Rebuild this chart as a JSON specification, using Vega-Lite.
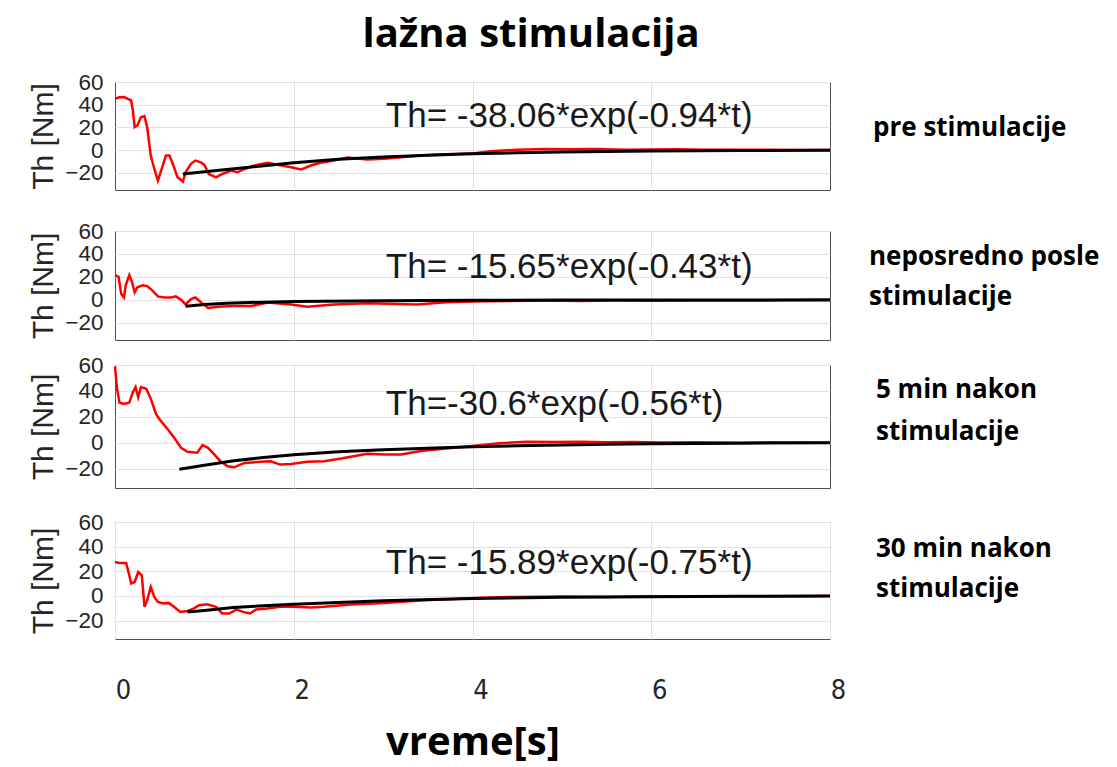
{
  "$schema": "https://vega.github.io/schema/vega-lite/v6.json",
  "background": "white",
  "padding": {"left": 28, "top": 14, "right": 10, "bottom": 2},
  "spacing": 12,
  "title": {"text": "lažna stimulacija", "font": "Open Sans", "fontSize": 40, "fontWeight": "bold", "color": "#000000", "anchor": "middle", "offset": 16, "dx": -33},
  "config": {
    "view": {"stroke": "#505050", "strokeWidth": 1, "fill": "white"},
    "axis": {"gridColor": "#e2e2e2", "gridWidth": 1, "ticks": false, "domain": false, "labelFont": "Liberation Sans", "labelColor": "#262626", "titleColor": "#262626"}
  },
  "datasets": {
    "red": [
      {"p":1,"t":0,"th":45.3},{"p":1,"t":0.05,"th":46.5},{"p":1,"t":0.1,"th":46.8},{"p":1,"t":0.15,"th":45},{"p":1,"t":0.18,"th":43.8},{"p":1,"t":0.2,"th":35},{"p":1,"t":0.22,"th":20.3},{"p":1,"t":0.25,"th":21.8},{"p":1,"t":0.29,"th":29},{"p":1,"t":0.33,"th":30},{"p":1,"t":0.36,"th":20.3},{"p":1,"t":0.4,"th":-4.7},{"p":1,"t":0.44,"th":-16.5},{"p":1,"t":0.48,"th":-26.7},{"p":1,"t":0.51,"th":-19.4},{"p":1,"t":0.57,"th":-4.7},{"p":1,"t":0.61,"th":-4.7},{"p":1,"t":0.64,"th":-10.6},{"p":1,"t":0.7,"th":-23.8},{"p":1,"t":0.76,"th":-27.6},{"p":1,"t":0.79,"th":-19.4},{"p":1,"t":0.85,"th":-12},{"p":1,"t":0.9,"th":-9.1},{"p":1,"t":0.96,"th":-10.6},{"p":1,"t":1.0,"th":-12.9},{"p":1,"t":1.05,"th":-20.9},{"p":1,"t":1.13,"th":-23.8},{"p":1,"t":1.2,"th":-20.9},{"p":1,"t":1.3,"th":-17.9},{"p":1,"t":1.37,"th":-19.4},{"p":1,"t":1.45,"th":-16.5},{"p":1,"t":1.56,"th":-13.5},{"p":1,"t":1.71,"th":-11.1},{"p":1,"t":1.82,"th":-12.9},{"p":1,"t":1.97,"th":-15},{"p":1,"t":2.08,"th":-17},{"p":1,"t":2.19,"th":-13.5},{"p":1,"t":2.3,"th":-11.1},{"p":1,"t":2.45,"th":-9.1},{"p":1,"t":2.6,"th":-6.4},{"p":1,"t":2.82,"th":-8.2},{"p":1,"t":3.01,"th":-7.6},{"p":1,"t":3.2,"th":-6.2},{"p":1,"t":3.42,"th":-4.7},{"p":1,"t":3.7,"th":-3.5},{"p":1,"t":3.98,"th":-3},{"p":1,"t":4.2,"th":-1},{"p":1,"t":4.5,"th":0.5},{"p":1,"t":4.8,"th":1},{"p":1,"t":5.1,"th":0.8},{"p":1,"t":5.4,"th":1},{"p":1,"t":5.7,"th":0.5},{"p":1,"t":6.0,"th":0.6},{"p":1,"t":6.3,"th":0.8},{"p":1,"t":6.6,"th":0.3},{"p":1,"t":7.0,"th":0.5},{"p":1,"t":7.3,"th":0.3},{"p":1,"t":7.6,"th":0.2},{"p":1,"t":8.0,"th":0.2},
      {"p":2,"t":0,"th":21.6},{"p":2,"t":0.04,"th":20},{"p":2,"t":0.07,"th":5},{"p":2,"t":0.1,"th":2},{"p":2,"t":0.12,"th":12.6},{"p":2,"t":0.16,"th":21.6},{"p":2,"t":0.19,"th":15.6},{"p":2,"t":0.22,"th":6.6},{"p":2,"t":0.25,"th":11},{"p":2,"t":0.31,"th":12.6},{"p":2,"t":0.36,"th":12},{"p":2,"t":0.42,"th":8},{"p":2,"t":0.48,"th":3},{"p":2,"t":0.55,"th":2},{"p":2,"t":0.63,"th":2},{"p":2,"t":0.68,"th":3},{"p":2,"t":0.74,"th":0},{"p":2,"t":0.79,"th":-4},{"p":2,"t":0.85,"th":0.6},{"p":2,"t":0.9,"th":2},{"p":2,"t":0.96,"th":-2},{"p":2,"t":1.04,"th":-7},{"p":2,"t":1.15,"th":-6},{"p":2,"t":1.33,"th":-5.4},{"p":2,"t":1.52,"th":-5.4},{"p":2,"t":1.71,"th":-2.4},{"p":2,"t":1.97,"th":-4},{"p":2,"t":2.15,"th":-6},{"p":2,"t":2.45,"th":-4},{"p":2,"t":2.82,"th":-3},{"p":2,"t":3.38,"th":-4},{"p":2,"t":3.7,"th":-2},{"p":2,"t":4.0,"th":-1.5},{"p":2,"t":4.4,"th":-1},{"p":2,"t":4.8,"th":-0.5},{"p":2,"t":5.2,"th":-1},{"p":2,"t":5.6,"th":-0.6},{"p":2,"t":6.0,"th":-0.8},{"p":2,"t":6.5,"th":-0.5},{"p":2,"t":7.0,"th":-0.6},{"p":2,"t":7.5,"th":-0.4},{"p":2,"t":8.0,"th":-0.3},
      {"p":3,"t":0,"th":59},{"p":3,"t":0.02,"th":43},{"p":3,"t":0.05,"th":31},{"p":3,"t":0.1,"th":30},{"p":3,"t":0.16,"th":31},{"p":3,"t":0.2,"th":39},{"p":3,"t":0.23,"th":43},{"p":3,"t":0.26,"th":35},{"p":3,"t":0.29,"th":43},{"p":3,"t":0.35,"th":41.6},{"p":3,"t":0.4,"th":34},{"p":3,"t":0.46,"th":22},{"p":3,"t":0.51,"th":17},{"p":3,"t":0.59,"th":10.4},{"p":3,"t":0.66,"th":4},{"p":3,"t":0.74,"th":-4},{"p":3,"t":0.81,"th":-7},{"p":3,"t":0.92,"th":-7.8},{"p":3,"t":0.98,"th":-1.8},{"p":3,"t":1.04,"th":-4},{"p":3,"t":1.11,"th":-9},{"p":3,"t":1.18,"th":-14.3},{"p":3,"t":1.26,"th":-18.2},{"p":3,"t":1.33,"th":-19},{"p":3,"t":1.45,"th":-15.6},{"p":3,"t":1.63,"th":-14.8},{"p":3,"t":1.74,"th":-14.3},{"p":3,"t":1.85,"th":-16.9},{"p":3,"t":1.97,"th":-16.4},{"p":3,"t":2.15,"th":-14.8},{"p":3,"t":2.34,"th":-14.3},{"p":3,"t":2.53,"th":-12.2},{"p":3,"t":2.67,"th":-10.4},{"p":3,"t":2.82,"th":-8.6},{"p":3,"t":3.01,"th":-9.1},{"p":3,"t":3.2,"th":-9.1},{"p":3,"t":3.42,"th":-6.5},{"p":3,"t":3.7,"th":-4.5},{"p":3,"t":4.0,"th":-2.5},{"p":3,"t":4.3,"th":-0.5},{"p":3,"t":4.6,"th":0.8},{"p":3,"t":4.9,"th":0.5},{"p":3,"t":5.2,"th":0.8},{"p":3,"t":5.5,"th":0.3},{"p":3,"t":5.8,"th":0.5},{"p":3,"t":6.1,"th":0.2},{"p":3,"t":6.5,"th":0.3},{"p":3,"t":7.0,"th":0},{"p":3,"t":7.5,"th":0.1},{"p":3,"t":8.0,"th":0},
      {"p":4,"t":0,"th":27.5},{"p":4,"t":0.05,"th":26.7},{"p":4,"t":0.125,"th":26.7},{"p":4,"t":0.16,"th":16.7},{"p":4,"t":0.18,"th":10},{"p":4,"t":0.22,"th":11.3},{"p":4,"t":0.26,"th":19.4},{"p":4,"t":0.3,"th":16.7},{"p":4,"t":0.33,"th":-8.9},{"p":4,"t":0.36,"th":-3.5},{"p":4,"t":0.4,"th":7.3},{"p":4,"t":0.44,"th":-0.8},{"p":4,"t":0.48,"th":-4.9},{"p":4,"t":0.54,"th":-6.2},{"p":4,"t":0.6,"th":-5.7},{"p":4,"t":0.66,"th":-8.9},{"p":4,"t":0.73,"th":-13},{"p":4,"t":0.81,"th":-12.2},{"p":4,"t":0.88,"th":-10.3},{"p":4,"t":0.94,"th":-7.6},{"p":4,"t":1.03,"th":-6.8},{"p":4,"t":1.13,"th":-8.9},{"p":4,"t":1.2,"th":-14.3},{"p":4,"t":1.28,"th":-14.3},{"p":4,"t":1.36,"th":-11},{"p":4,"t":1.43,"th":-13},{"p":4,"t":1.51,"th":-14.3},{"p":4,"t":1.58,"th":-11},{"p":4,"t":1.7,"th":-10.3},{"p":4,"t":1.85,"th":-8.9},{"p":4,"t":2.0,"th":-8.9},{"p":4,"t":2.19,"th":-9.5},{"p":4,"t":2.34,"th":-8.9},{"p":4,"t":2.64,"th":-7},{"p":4,"t":3.02,"th":-5.7},{"p":4,"t":3.44,"th":-3.5},{"p":4,"t":3.8,"th":-2.5},{"p":4,"t":4.1,"th":-1.5},{"p":4,"t":4.5,"th":-0.8},{"p":4,"t":5.0,"th":-0.5},{"p":4,"t":5.5,"th":-0.8},{"p":4,"t":6.0,"th":-0.3},{"p":4,"t":6.5,"th":-0.5},{"p":4,"t":7.0,"th":-0.2},{"p":4,"t":7.5,"th":-0.3},{"p":4,"t":8.0,"th":-0.1}
    ],
    "black": [
      {"p":1,"t":0.76,"th":-21},{"p":1,"t":1.0,"th":-19},{"p":1,"t":1.25,"th":-17},{"p":1,"t":1.5,"th":-15},{"p":1,"t":1.75,"th":-13},{"p":1,"t":2.0,"th":-11},{"p":1,"t":2.5,"th":-8},{"p":1,"t":3.0,"th":-6},{"p":1,"t":3.5,"th":-4.5},{"p":1,"t":4.0,"th":-3.2},{"p":1,"t":4.5,"th":-2.3},{"p":1,"t":5.0,"th":-1.6},{"p":1,"t":5.5,"th":-1.1},{"p":1,"t":6.0,"th":-0.7},{"p":1,"t":7.0,"th":-0.3},{"p":1,"t":8.0,"th":-0.1},
      {"p":2,"t":0.79,"th":-5.5},{"p":2,"t":1.0,"th":-4},{"p":2,"t":1.25,"th":-3},{"p":2,"t":1.5,"th":-2.3},{"p":2,"t":2.0,"th":-1.5},{"p":2,"t":3.0,"th":-0.8},{"p":2,"t":4.0,"th":-0.4},{"p":2,"t":5.0,"th":-0.2},{"p":2,"t":6.0,"th":-0.1},{"p":2,"t":8.0,"th":0},
      {"p":3,"t":0.72,"th":-20.5},{"p":3,"t":1.0,"th":-17.5},{"p":3,"t":1.33,"th":-14},{"p":3,"t":1.66,"th":-11.5},{"p":3,"t":2.0,"th":-9.3},{"p":3,"t":2.5,"th":-7},{"p":3,"t":3.0,"th":-5.5},{"p":3,"t":3.5,"th":-4.3},{"p":3,"t":4.0,"th":-3.2},{"p":3,"t":4.5,"th":-2.4},{"p":3,"t":5.0,"th":-1.7},{"p":3,"t":5.5,"th":-1.2},{"p":3,"t":6.0,"th":-0.8},{"p":3,"t":7.0,"th":-0.4},{"p":3,"t":8.0,"th":-0.1},
      {"p":4,"t":0.81,"th":-13},{"p":4,"t":1.0,"th":-11.8},{"p":4,"t":1.32,"th":-9.5},{"p":4,"t":1.66,"th":-8},{"p":4,"t":2.0,"th":-6.8},{"p":4,"t":2.64,"th":-4.9},{"p":4,"t":3.0,"th":-4},{"p":4,"t":3.44,"th":-3.1},{"p":4,"t":4.0,"th":-2.2},{"p":4,"t":5.0,"th":-1.2},{"p":4,"t":6.0,"th":-0.6},{"p":4,"t":7.0,"th":-0.3},{"p":4,"t":8.0,"th":-0.1}
    ]
  },
  "vconcat": [
    {
      "spacing": 28,
      "vconcat": [
        {
          "width": 715, "height": 108,
          "layer": [
            {"data": {"name": "red"}, "transform": [{"filter": "datum.p == 1"}], "mark": {"type": "line", "color": "#ff0000", "strokeWidth": 2.5},
             "encoding": {"x": {"field": "t", "type": "quantitative", "scale": {"domain": [0, 8], "nice": false}, "axis": {"values": [2, 4, 6], "labels": false, "title": null, "grid": true}},
                          "y": {"field": "th", "type": "quantitative", "scale": {"domain": [-35, 60], "nice": false}, "axis": {"values": [-20, 0, 20, 40, 60], "title": "Th [Nm]", "titleFont": "Liberation Sans", "titleFontSize": 30, "titleFontWeight": "normal", "titlePadding": 6, "labelFontSize": 22.5, "labelOverlap": false, "labelBound": false, "labelPadding": 12, "grid": true}}}},
            {"data": {"name": "black"}, "transform": [{"filter": "datum.p == 1"}], "mark": {"type": "line", "color": "#000000", "strokeWidth": 3},
             "encoding": {"x": {"field": "t", "type": "quantitative", "axis": {"values": [2, 4, 6], "labels": false, "title": null, "grid": true}}, "y": {"field": "th", "type": "quantitative", "axis": {"values": [-20, 0, 20, 40, 60], "title": "Th [Nm]", "titleFont": "Liberation Sans", "titleFontSize": 30, "titleFontWeight": "normal", "titlePadding": 6, "labelFontSize": 22.5, "labelOverlap": false, "labelBound": false, "labelPadding": 12, "grid": true}}}},
            {"data": {"values": [{"label": "Th= -38.06*exp(-0.94*t)"}]}, "mark": {"type": "text", "align": "left", "baseline": "middle", "font": "Liberation Sans", "fontSize": 35, "color": "#1a1a1a"},
             "encoding": {"x": {"datum": 3.03, "type": "quantitative", "axis": {"values": [2, 4, 6], "labels": false, "title": null, "grid": true}}, "y": {"datum": 30, "type": "quantitative", "axis": {"values": [-20, 0, 20, 40, 60], "title": "Th [Nm]", "titleFont": "Liberation Sans", "titleFontSize": 30, "titleFontWeight": "normal", "titlePadding": 6, "labelFontSize": 22.5, "labelOverlap": false, "labelBound": false, "labelPadding": 12, "grid": true}}, "text": {"field": "label"}}},
            {"data": {"values": [{"label": "pre stimulacije"}]}, "mark": {"type": "text", "align": "left", "baseline": "top", "dx": 43, "dy": 33, "font": "Open Sans", "fontSize": 26, "fontWeight": "bold", "color": "#000000", "lineHeight": 40},
             "encoding": {"x": {"datum": 8, "type": "quantitative", "axis": {"values": [2, 4, 6], "labels": false, "title": null, "grid": true}}, "y": {"datum": 60, "type": "quantitative", "axis": {"values": [-20, 0, 20, 40, 60], "title": "Th [Nm]", "titleFont": "Liberation Sans", "titleFontSize": 30, "titleFontWeight": "normal", "titlePadding": 6, "labelFontSize": 22.5, "labelOverlap": false, "labelBound": false, "labelPadding": 12, "grid": true}}, "text": {"field": "label"}}}
          ]
        },
        {
          "width": 715, "height": 109,
          "layer": [
            {"data": {"name": "red"}, "transform": [{"filter": "datum.p == 2"}], "mark": {"type": "line", "color": "#ff0000", "strokeWidth": 2.5},
             "encoding": {"x": {"field": "t", "type": "quantitative", "scale": {"domain": [0, 8], "nice": false}, "axis": {"values": [2, 4, 6], "labels": false, "title": null, "grid": true}},
                          "y": {"field": "th", "type": "quantitative", "scale": {"domain": [-35, 60], "nice": false}, "axis": {"values": [-20, 0, 20, 40, 60], "title": "Th [Nm]", "titleFont": "Liberation Sans", "titleFontSize": 30, "titleFontWeight": "normal", "titlePadding": 6, "labelFontSize": 22.5, "labelOverlap": false, "labelBound": false, "labelPadding": 12, "grid": true}}}},
            {"data": {"name": "black"}, "transform": [{"filter": "datum.p == 2"}], "mark": {"type": "line", "color": "#000000", "strokeWidth": 3},
             "encoding": {"x": {"field": "t", "type": "quantitative", "axis": {"values": [2, 4, 6], "labels": false, "title": null, "grid": true}}, "y": {"field": "th", "type": "quantitative", "axis": {"values": [-20, 0, 20, 40, 60], "title": "Th [Nm]", "titleFont": "Liberation Sans", "titleFontSize": 30, "titleFontWeight": "normal", "titlePadding": 6, "labelFontSize": 22.5, "labelOverlap": false, "labelBound": false, "labelPadding": 12, "grid": true}}}},
            {"data": {"values": [{"label": "Th= -15.65*exp(-0.43*t)"}]}, "mark": {"type": "text", "align": "left", "baseline": "middle", "font": "Liberation Sans", "fontSize": 35, "color": "#1a1a1a"},
             "encoding": {"x": {"datum": 3.03, "type": "quantitative", "axis": {"values": [2, 4, 6], "labels": false, "title": null, "grid": true}}, "y": {"datum": 29, "type": "quantitative", "axis": {"values": [-20, 0, 20, 40, 60], "title": "Th [Nm]", "titleFont": "Liberation Sans", "titleFontSize": 30, "titleFontWeight": "normal", "titlePadding": 6, "labelFontSize": 22.5, "labelOverlap": false, "labelBound": false, "labelPadding": 12, "grid": true}}, "text": {"field": "label"}}},
            {"data": {"values": [{"label": ["neposredno posle", "stimulacije"]}]}, "mark": {"type": "text", "align": "left", "baseline": "top", "dx": 39, "dy": 13, "font": "Open Sans", "fontSize": 26, "fontWeight": "bold", "color": "#000000", "lineHeight": 40},
             "encoding": {"x": {"datum": 8, "type": "quantitative", "axis": {"values": [2, 4, 6], "labels": false, "title": null, "grid": true}}, "y": {"datum": 60, "type": "quantitative", "axis": {"values": [-20, 0, 20, 40, 60], "title": "Th [Nm]", "titleFont": "Liberation Sans", "titleFontSize": 30, "titleFontWeight": "normal", "titlePadding": 6, "labelFontSize": 22.5, "labelOverlap": false, "labelBound": false, "labelPadding": 12, "grid": true}}, "text": {"field": "label"}}}
          ]
        }
      ]
    },
    {
      "spacing": 21,
      "vconcat": [
        {
          "width": 715, "height": 123,
          "layer": [
            {"data": {"name": "red"}, "transform": [{"filter": "datum.p == 3"}], "mark": {"type": "line", "color": "#ff0000", "strokeWidth": 2.5},
             "encoding": {"x": {"field": "t", "type": "quantitative", "scale": {"domain": [0, 8], "nice": false}, "axis": {"values": [2, 4, 6], "labels": false, "title": null, "grid": true}},
                          "y": {"field": "th", "type": "quantitative", "scale": {"domain": [-35, 60], "nice": false}, "axis": {"values": [-20, 0, 20, 40, 60], "title": "Th [Nm]", "titleFont": "Liberation Sans", "titleFontSize": 30, "titleFontWeight": "normal", "titlePadding": 6, "labelFontSize": 22.5, "labelOverlap": false, "labelBound": false, "labelPadding": 12, "grid": true}}}},
            {"data": {"name": "black"}, "transform": [{"filter": "datum.p == 3"}], "mark": {"type": "line", "color": "#000000", "strokeWidth": 3},
             "encoding": {"x": {"field": "t", "type": "quantitative", "axis": {"values": [2, 4, 6], "labels": false, "title": null, "grid": true}}, "y": {"field": "th", "type": "quantitative", "axis": {"values": [-20, 0, 20, 40, 60], "title": "Th [Nm]", "titleFont": "Liberation Sans", "titleFontSize": 30, "titleFontWeight": "normal", "titlePadding": 6, "labelFontSize": 22.5, "labelOverlap": false, "labelBound": false, "labelPadding": 12, "grid": true}}}},
            {"data": {"values": [{"label": "Th=-30.6*exp(-0.56*t)"}]}, "mark": {"type": "text", "align": "left", "baseline": "middle", "font": "Liberation Sans", "fontSize": 35, "color": "#1a1a1a"},
             "encoding": {"x": {"datum": 3.03, "type": "quantitative", "axis": {"values": [2, 4, 6], "labels": false, "title": null, "grid": true}}, "y": {"datum": 30, "type": "quantitative", "axis": {"values": [-20, 0, 20, 40, 60], "title": "Th [Nm]", "titleFont": "Liberation Sans", "titleFontSize": 30, "titleFontWeight": "normal", "titlePadding": 6, "labelFontSize": 22.5, "labelOverlap": false, "labelBound": false, "labelPadding": 12, "grid": true}}, "text": {"field": "label"}}},
            {"data": {"values": [{"label": ["5 min nakon", "stimulacije"]}]}, "mark": {"type": "text", "align": "left", "baseline": "top", "dx": 46, "dy": 12, "font": "Open Sans", "fontSize": 26, "fontWeight": "bold", "color": "#000000", "lineHeight": 42},
             "encoding": {"x": {"datum": 8, "type": "quantitative", "axis": {"values": [2, 4, 6], "labels": false, "title": null, "grid": true}}, "y": {"datum": 60, "type": "quantitative", "axis": {"values": [-20, 0, 20, 40, 60], "title": "Th [Nm]", "titleFont": "Liberation Sans", "titleFontSize": 30, "titleFontWeight": "normal", "titlePadding": 6, "labelFontSize": 22.5, "labelOverlap": false, "labelBound": false, "labelPadding": 12, "grid": true}}, "text": {"field": "label"}}}
          ]
        },
        {
          "width": 715, "height": 117,
          "layer": [
            {"data": {"name": "red"}, "transform": [{"filter": "datum.p == 4"}], "mark": {"type": "line", "color": "#ff0000", "strokeWidth": 2.5},
             "encoding": {"x": {"field": "t", "type": "quantitative", "scale": {"domain": [0, 8], "nice": false}, "axis": {"values": [0, 2, 4, 6, 8], "format": "d", "grid": true, "labelFont": "DejaVu Sans Condensed, Liberation Sans", "labelFontSize": 27, "labelPadding": 38, "labelOffset": 8, "labelBound": false, "labelFlush": false, "title": "vreme[s]", "titleFont": "Open Sans", "titleFontSize": 40, "titleFontWeight": "bold", "titleColor": "#000000", "titlePadding": 19}},
                          "y": {"field": "th", "type": "quantitative", "scale": {"domain": [-35, 60], "nice": false}, "axis": {"values": [-20, 0, 20, 40, 60], "title": "Th [Nm]", "titleFont": "Liberation Sans", "titleFontSize": 30, "titleFontWeight": "normal", "titlePadding": 6, "labelFontSize": 22.5, "labelOverlap": false, "labelBound": false, "labelPadding": 12, "grid": true}}}},
            {"data": {"name": "black"}, "transform": [{"filter": "datum.p == 4"}], "mark": {"type": "line", "color": "#000000", "strokeWidth": 3},
             "encoding": {"x": {"field": "t", "type": "quantitative", "axis": {"values": [0, 2, 4, 6, 8], "format": "d", "grid": true, "labelFont": "DejaVu Sans Condensed, Liberation Sans", "labelFontSize": 27, "labelPadding": 38, "labelOffset": 8, "labelBound": false, "labelFlush": false, "title": "vreme[s]", "titleFont": "Open Sans", "titleFontSize": 40, "titleFontWeight": "bold", "titleColor": "#000000", "titlePadding": 19}}, "y": {"field": "th", "type": "quantitative", "axis": {"values": [-20, 0, 20, 40, 60], "title": "Th [Nm]", "titleFont": "Liberation Sans", "titleFontSize": 30, "titleFontWeight": "normal", "titlePadding": 6, "labelFontSize": 22.5, "labelOverlap": false, "labelBound": false, "labelPadding": 12, "grid": true}}}},
            {"data": {"values": [{"label": "Th= -15.89*exp(-0.75*t)"}]}, "mark": {"type": "text", "align": "left", "baseline": "middle", "font": "Liberation Sans", "fontSize": 35, "color": "#1a1a1a"},
             "encoding": {"x": {"datum": 3.03, "type": "quantitative", "axis": {"values": [0, 2, 4, 6, 8], "format": "d", "grid": true, "labelFont": "DejaVu Sans Condensed, Liberation Sans", "labelFontSize": 27, "labelPadding": 38, "labelOffset": 8, "labelBound": false, "labelFlush": false, "title": "vreme[s]", "titleFont": "Open Sans", "titleFontSize": 40, "titleFontWeight": "bold", "titleColor": "#000000", "titlePadding": 19}}, "y": {"datum": 27, "type": "quantitative", "axis": {"values": [-20, 0, 20, 40, 60], "title": "Th [Nm]", "titleFont": "Liberation Sans", "titleFontSize": 30, "titleFontWeight": "normal", "titlePadding": 6, "labelFontSize": 22.5, "labelOverlap": false, "labelBound": false, "labelPadding": 12, "grid": true}}, "text": {"field": "label"}}},
            {"data": {"values": [{"label": ["30 min nakon", "stimulacije"]}]}, "mark": {"type": "text", "align": "left", "baseline": "top", "dx": 46, "dy": 14, "font": "Open Sans", "fontSize": 26, "fontWeight": "bold", "color": "#000000", "lineHeight": 40},
             "encoding": {"x": {"datum": 8, "type": "quantitative", "axis": {"values": [0, 2, 4, 6, 8], "format": "d", "grid": true, "labelFont": "DejaVu Sans Condensed, Liberation Sans", "labelFontSize": 27, "labelPadding": 38, "labelOffset": 8, "labelBound": false, "labelFlush": false, "title": "vreme[s]", "titleFont": "Open Sans", "titleFontSize": 40, "titleFontWeight": "bold", "titleColor": "#000000", "titlePadding": 19}}, "y": {"datum": 60, "type": "quantitative", "axis": {"values": [-20, 0, 20, 40, 60], "title": "Th [Nm]", "titleFont": "Liberation Sans", "titleFontSize": 30, "titleFontWeight": "normal", "titlePadding": 6, "labelFontSize": 22.5, "labelOverlap": false, "labelBound": false, "labelPadding": 12, "grid": true}}, "text": {"field": "label"}}}
          ]
        }
      ]
    }
  ]
}
